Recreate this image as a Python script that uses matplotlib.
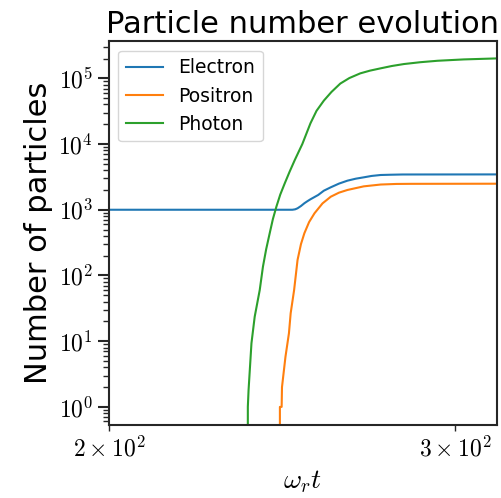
import matplotlib
matplotlib.use("Agg")
import matplotlib.pyplot as plt
from matplotlib.ticker import FuncFormatter, FixedLocator, NullFormatter
import math

plt.rcParams['mathtext.fontset'] = 'cm'
plt.rcParams['font.family'] = ['DejaVu Sans']

# Electron
t_electron = [200, 247.9, 248.7, 249.4, 250.4, 251.4, 252.3, 253.2, 255.5, 257.2, 259.3,
              261.8, 264.4, 267.0, 269.6, 272.0, 274.9, 278.0, 282.0, 315]
n_electron = [1000, 1000, 1015, 1052, 1140, 1256, 1350, 1443, 1678, 1950, 2197,
              2500, 2770, 2970, 3120, 3270, 3380, 3410, 3440, 3450]

# Positron
t_positron = [200, 244.2, 244.3, 244.8, 244.9, 245.9, 246.9, 247.4, 248.4, 249.4, 250.4,
              251.4, 252.8, 254.4, 256.8, 259.3, 261.8, 264.4, 269.5, 274.9, 280.0, 285.0, 315]
n_positron = [0, 0, 1, 1, 2, 5.8, 13.2, 26.6, 60, 172, 300,
              439, 650, 884, 1250, 1580, 1820, 2000, 2270, 2420, 2470, 2480, 2490]

# Photon
t_photon = [200, 235.1, 235.3, 235.5, 236.3, 237.2, 238.6, 239.5, 240.4, 241.4, 242.3,
            243.3, 244.4, 245.7, 247.1, 248.6, 250.8, 253.2, 255.0, 257.2, 259.5, 262.2,
            265.0, 268.4, 271.5, 274.9, 278.5, 282.5, 288.0, 293.8, 303.0, 315]
n_photon = [0, 0, 1.0, 1.8, 9.3, 23.6, 60, 136, 250, 439, 720,
            1114, 1700, 2530, 3800, 5720, 10000, 20700, 32000, 45800, 62000, 83200,
            101000, 119000, 131000, 142000, 154000, 165000, 176000, 185000, 194000, 201000]

series_labels = ["Electron", "Positron", "Photon"]
x_tick_values = [200, 300]
x_tick_labels = [r"$2\times10^{2}$", r"$3\times10^{2}$"]

fig = plt.figure(figsize=(5.02, 4.98), dpi=100)
ax = fig.add_axes([109/502, 73/498, 388/502, 383.7/498])

ax.plot(t_electron, n_electron, color='#1f77b4', lw=1.5, label=series_labels[0])
ax.plot(t_positron, n_positron, color='#ff7f0e', lw=1.5, label=series_labels[1])
ax.plot(t_photon, n_photon, color='#2ca02c', lw=1.5, label=series_labels[2])

ax.set_xscale('log')
ax.set_yscale('log')
ax.set_xlim(200, 315)
ax.set_ylim(0.53, 3.66e5)

ax.xaxis.set_minor_locator(FixedLocator(x_tick_values))
ax.xaxis.set_minor_formatter(FuncFormatter(
    lambda v, p: x_tick_labels[x_tick_values.index(int(round(v)))] if int(round(v)) in x_tick_values else ""))
ax.yaxis.set_major_formatter(FuncFormatter(lambda v, p: r"$10^{%d}$" % int(round(math.log10(v)))))
ax.yaxis.set_minor_formatter(NullFormatter())

ax.set_title("Particle number evolution", fontsize=22)
ax.set_ylabel("Number of particles", fontsize=22)
ax.set_xlabel(r"$\omega_r t$", fontsize=20)

for s in ax.spines.values():
    s.set_linewidth(1.5)
    s.set_color('#262626')
ax.tick_params(which='major', length=8, width=1.5, labelsize=17, color='#262626')
ax.tick_params(which='minor', length=4.5, width=1, labelsize=17, color='#262626')

ax.legend(loc='upper left', fontsize=13.5)

fig.savefig("out.png", dpi=100)
